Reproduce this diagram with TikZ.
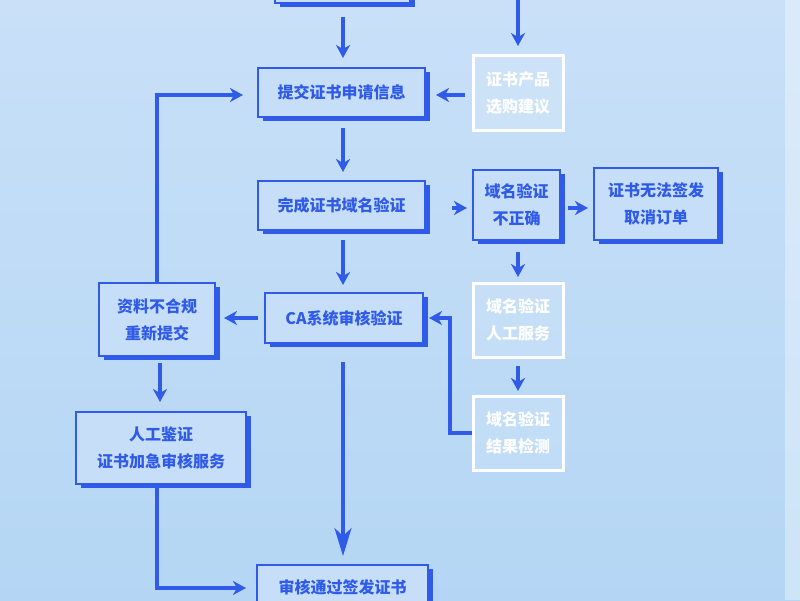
\documentclass[tikz,border=0pt]{standalone}
\usepackage{fontspec}
\setmainfont{Noto Sans CJK SC}
\usetikzlibrary{arrows.meta}
\definecolor{bl}{HTML}{2F5BE8}
\definecolor{bgA}{HTML}{C9E0F8}
\definecolor{bgB}{HTML}{B4D6F4}
\definecolor{fillb}{HTML}{C6DEF8}
\begin{document}
\begin{tikzpicture}[x=1pt,y=-1pt,
  bb/.style={draw=bl,line width=2.6pt,fill=fillb,text=bl,align=center,inner sep=0pt,
    font=\fontsize{16}{27}\selectfont\bfseries},
  wb/.style={draw=white,line width=3pt,fill=white,fill opacity=0.12,text opacity=1,text=white,align=center,inner sep=0pt,
    font=\fontsize{16}{27}\selectfont\bfseries},
  ar/.style={draw=bl,line width=3.2pt,-{Stealth[length=13pt,width=14pt,inset=4pt]}},
  bigar/.style={draw=bl,line width=3.2pt,-{Stealth[length=28pt,width=17pt,inset=8pt]}}]
\useasboundingbox (0,0) rectangle (800,600);
\shade[top color=bgA,bottom color=bgB] (0,0) rectangle (800,600);
\fill[white,opacity=0.35] (785,0) rectangle (800,600);
\newcommand{\bbox}[4]{\fill[bl] (#1+5,#2+4) rectangle (#3+5,#4+4);}
\bbox{275}{-30}{410}{3}
\bbox{258}{68}{425}{117}
\bbox{258}{181}{425}{230}
\bbox{473}{170}{560}{240}
\bbox{594}{168}{718}{240}
\bbox{265}{293}{423}{343}
\bbox{99}{283}{215}{356}
\bbox{76}{412}{246}{484}
\bbox{257}{565}{428}{630}
\node[bb,minimum width=135pt,minimum height=33pt] (top) at (342.5,-13.5) {};
\node[bb,minimum width=167pt,minimum height=49pt] (a) at (341.5,92.5) {提交证书申请信息};
\node[wb,minimum width=90pt,minimum height=75pt] (w1) at (518,92.5) {证书产品\\选购建议};
\node[bb,minimum width=167pt,minimum height=49pt] (b) at (341.5,205.5) {完成证书域名验证};
\node[bb,minimum width=87pt,minimum height=70pt] (c) at (516.5,205) {域名验证\\不正确};
\node[bb,minimum width=124pt,minimum height=72pt] (d) at (656,204) {证书无法签发\\取消订单};
\node[wb,minimum width=90pt,minimum height=74pt] (w2) at (518,320) {域名验证\\人工服务};
\node[wb,minimum width=90pt,minimum height=74pt] (w3) at (518,433) {域名验证\\结果检测};
\node[bb,minimum width=158pt,minimum height=50pt] (e) at (344,318) {CA系统审核验证};
\node[bb,minimum width=116pt,minimum height=73pt] (f) at (157,319.5) {资料不合规\\重新提交};
\node[bb,minimum width=170pt,minimum height=72pt] (g) at (161,448) {人工鉴证\\证书加急审核服务};
\node[bb,minimum width=171pt,minimum height=65pt] (h) at (342.5,597.5) {};
\node[text=bl,font=\fontsize{16}{27}\selectfont\bfseries] (ht) at (342.5,587) {审核通过签发证书};
\coordinate (t0) at (518,0);
\coordinate (s0) at (343,17);
\coordinate (k1) at (450,433);
\coordinate (k2) at (450,318);
\coordinate (k3) at (157,95);
\coordinate (k4) at (157,588);
\draw[ar] (s0) -- (343,58);
\draw[ar] (t0) -- (518,46);
\draw[ar] (343,128) -- (343,172);
\draw[ar] (465,95) -- (436,95);
\draw[ar] (452,208) -- (467,208);
\draw[ar] (568,208) -- (588,208);
\draw[ar] (518,252) -- (518,277);
\draw[ar] (518,366) -- (518,391);
\draw[ar] (343,240) -- (343,285);
\draw[bigar] (343,362) -- (343,556);
\draw[ar] (258,318) -- (224,318);
\draw[ar] (160,363) -- (160,402);
\draw[ar] (w3.west) -- (k1) -- (k2) -- (429,318);
\draw[ar] (f.north) -- (k3) -- (243,95);
\draw[ar] (157,485) -- (k4) -- (246,588);
\end{tikzpicture}
\end{document}
